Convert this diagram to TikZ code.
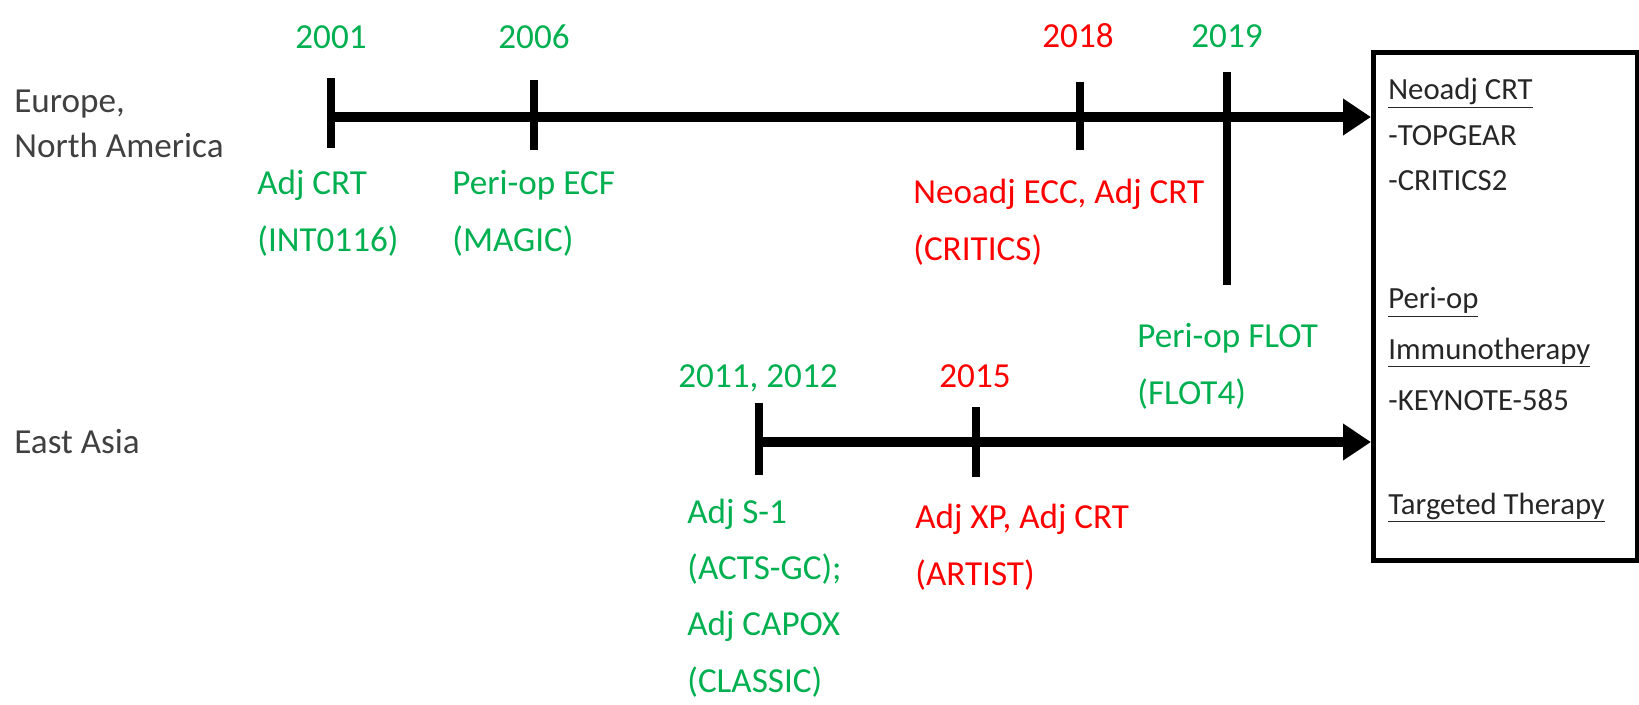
\documentclass[tikz,border=0pt]{standalone}
\usepackage{fontspec}
\setmainfont{Carlito}
\usetikzlibrary{arrows.meta}
\definecolor{okgreen}{HTML}{00B050}
\definecolor{okred}{HTML}{FF0000}
\definecolor{region}{HTML}{404040}
\definecolor{boxtext}{HTML}{262626}

\begin{document}
\begin{tikzpicture}[x=0.02cm, y=-0.02cm,
  every node/.style={inner sep=0pt, font=\fontsize{20}{32}\selectfont},
  axis/.style={line width=0.2cm, -{Triangle[length=0.56cm, width=0.7cm]}},
  tick/.style={line width=0.16cm},
  year/.style={anchor=base},
  trial/.style={anchor=base west, align=left}]
  \useasboundingbox (0,0) rectangle (1639,704);
  % regions (placed at the baseline of the last line)
  \node[trial, text=region, font=\fontsize{20}{25.5}\selectfont] (eu) at (14,157) {Europe,\\North America};
  \node[trial, text=region] (ea) at (14,453) {East Asia};
  % outlook box
  \node[draw, line width=0.1cm, anchor=north west, minimum width=5.28cm, minimum height=10.16cm] (outlook) at (1371,50) {};
  \node[trial, text=boxtext, font=\fontsize{17.5}{29}\selectfont] (future) at (1388,514)
    {\underline{Neoadj CRT}\\[-3pt]-TOPGEAR\\[-3pt]-CRITICS2\\[38pt]\underline{Peri-op}\\\underline{Immunotherapy}\\-KEYNOTE-585\\[30pt]\underline{Targeted Therapy}};
  % time lines
  \coordinate (euS) at (331,117);
  \coordinate (eaS) at (759,442);
  \draw[axis] (euS) -- (euS -| outlook.west);
  \draw[axis] (eaS) -- (eaS -| outlook.west);
  \foreach \x/\a/\b in {331/78/148, 534/80/150, 1080/82/150, 1227/72/285, 759/403/475, 976/407/477}
    \draw[tick] (\x,\a) -- (\x,\b);
  % years
  \node[year, text=okgreen] (y2001) at (331,48) {2001};
  \node[year, text=okgreen] (y2006) at (534,48) {2006};
  \node[year, text=okred] (y2018) at (1078,47) {2018};
  \node[year, text=okgreen] (y2019) at (1227,47) {2019};
  \node[year, text=okgreen] (y2011) at (758,387) {2011, 2012};
  \node[year, text=okred] (y2015) at (975,387) {2015};
  % trials
  \node[trial, text=okgreen] (int) at (257,251) {Adj CRT\\(INT0116)};
  \node[trial, text=okgreen] (magic) at (452,251) {Peri-op ECF\\(MAGIC)};
  \node[trial, text=okred] (critics) at (913,260) {Neoadj ECC, Adj CRT\\(CRITICS)};
  \node[trial, text=okgreen] (flot) at (1137,404) {Peri-op FLOT\\(FLOT4)};
  \node[trial, text=okgreen] (acts) at (687,692) {Adj S-1\\(ACTS-GC);\\Adj CAPOX\\(CLASSIC)};
  \node[trial, text=okred] (artist) at (915,585) {Adj XP, Adj CRT\\(ARTIST)};
\end{tikzpicture}
\end{document}
